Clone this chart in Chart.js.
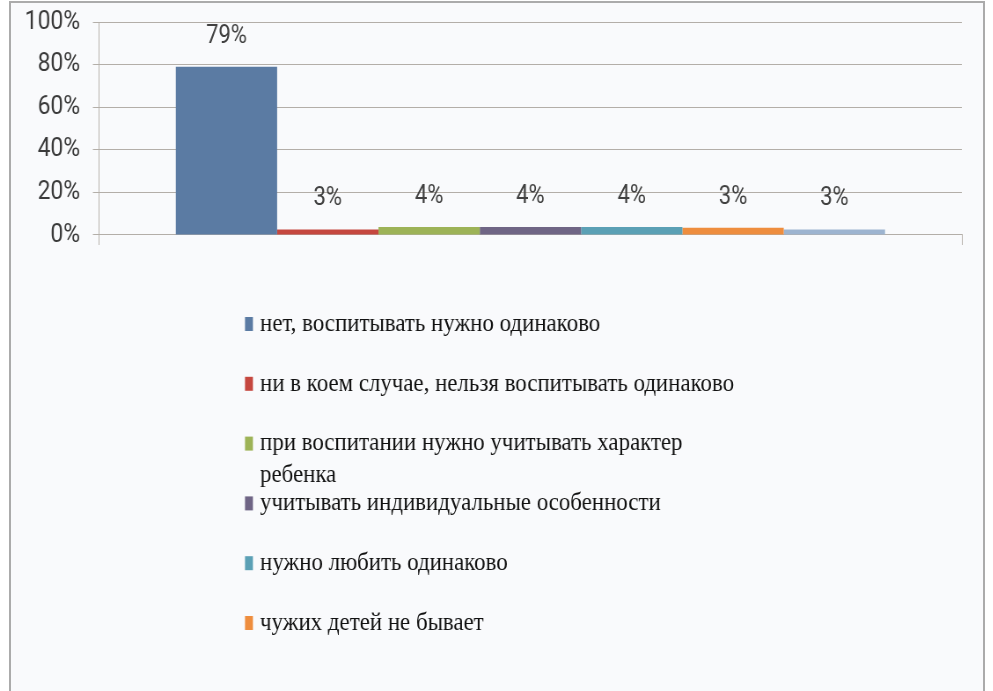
<!DOCTYPE html>
<html>
<head>
<meta charset="utf-8">
<script src="https://cdn.jsdelivr.net/npm/chart.js@4/dist/chart.umd.min.js"></script>
<style>
html, body { margin: 0; padding: 0; background: #ffffff; overflow: hidden; width: 993px; height: 691px; }
#frame { position: absolute; left: 9px; top: 1px; width: 972px; height: 740px; border: 2px solid #ababab; background: #f9fafc; }
#wrap { position: absolute; left: 0; top: 0; width: 1128px; height: 691px; transform: scaleX(0.88); transform-origin: 0 0; }
canvas { display: block; }
</style>
</head>
<body>
<div id="frame"></div>
<div id="wrap"><canvas id="chart" width="1128" height="691"></canvas></div>
<script>
// ---- data ----
const categories = [''];
const seriesLabels = [
  'нет, воспитывать нужно одинаково',
  'ни в коем случае, нельзя воспитывать одинаково',
  ['при воспитании нужно учитывать характер', 'ребенка'],
  'учитывать индивидуальные особенности',
  'нужно любить одинаково',
  'чужих детей не бывает',
  'другое'
];
const seriesValues = [79, 2.6, 3.8, 3.8, 3.8, 3.4, 2.6];
const valueLabels = ['79%', '3%', '4%', '4%', '4%', '3%', '3%'];
const seriesColors = ['#5b7ba3', '#c5473f', '#9db357', '#6f6585', '#5ba0b5', '#ee8d3e', '#9db4d0'];
const yTicks = [0, 20, 40, 60, 80, 100];
const legendCount = 6;

// ---- plugins ----
const valueLabelPlugin = {
  id: 'valueLabels',
  afterDatasetsDraw(chart, args, o) {
    const ctx = chart.ctx;
    ctx.save();
    ctx.font = o.size + 'px ' + o.family;
    ctx.fillStyle = o.color;
    ctx.textAlign = 'center';
    ctx.textBaseline = 'middle';
    chart.data.datasets.forEach((ds, i) => {
      const el = chart.getDatasetMeta(i).data[0];
      if (el) ctx.fillText(valueLabels[i], el.x, el.y - o.offset);
    });
    ctx.restore();
  }
};

const columnLegend = {
  id: 'columnLegend',
  afterDraw(chart, args, o) {
    const ctx = chart.ctx;
    ctx.save();
    ctx.font = o.size + 'px ' + o.family;
    ctx.textAlign = 'left';
    ctx.textBaseline = 'middle';
    chart.data.datasets.slice(0, o.count).forEach((ds, i) => {
      const cy = o.top + i * o.rowGap;
      ctx.fillStyle = ds.backgroundColor;
      ctx.fillRect(o.boxX, cy - o.boxH / 2, o.boxW, o.boxH);
      ctx.fillStyle = o.color;
      const lines = Array.isArray(ds.label) ? ds.label : [ds.label];
      lines.forEach((t, k) => ctx.fillText(t, o.textX, cy + k * o.lineGap));
    });
    ctx.restore();
  }
};

const gridColor = '#b3aea8';

new Chart(document.getElementById('chart').getContext('2d'), {
  type: 'bar',
  data: {
    labels: categories,
    datasets: seriesLabels.map((label, i) => ({
      label: label,
      data: [seriesValues[i]],
      backgroundColor: seriesColors[i],
      borderWidth: 0,
      barPercentage: 1,
      categoryPercentage: 0.822
    }))
  },
  options: {
    responsive: false,
    animation: false,
    devicePixelRatio: 1,
    layout: { padding: { left: 28, right: 35, top: 14, bottom: 446 } },
    plugins: {
      legend: { display: false },
      tooltip: { enabled: false },
      valueLabels: { family: 'Roboto', size: 25, color: '#404040', offset: 30.5 },
      columnLegend: {
        family: '"Liberation Serif"', size: 26, color: '#111111', count: legendCount,
        top: 324, rowGap: 59.8, lineGap: 32,
        boxX: 278.4, boxW: 9, boxH: 14, textX: 295.5
      }
    },
    scales: {
      x: {
        grid: { display: true, drawOnChartArea: false, offset: true, tickLength: 10, color: gridColor },
        border: { display: true, color: gridColor },
        ticks: { display: false }
      },
      y: {
        min: 0,
        max: 100,
        afterBuildTicks: s => { s.ticks = yTicks.map(v => ({ value: v })); },
        afterFit: s => { s.width = 84.5; },
        ticks: {
          callback: v => v + '%',
          font: { family: 'Roboto', size: 26, lineHeight: 0.58 },
          color: '#3a3a3a',
          padding: 14.5
        },
        grid: { color: gridColor, tickLength: 7 },
        border: { color: gridColor }
      }
    }
  },
  plugins: [valueLabelPlugin, columnLegend]
});
</script>
</body>
</html>
